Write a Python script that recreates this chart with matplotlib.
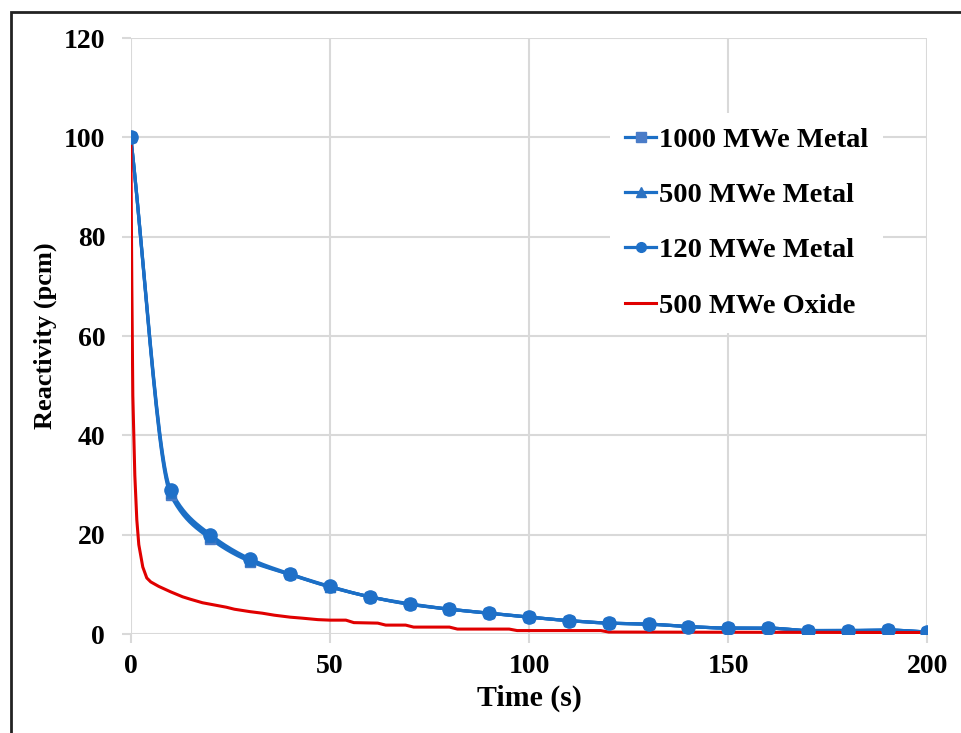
import numpy as np
import matplotlib.pyplot as plt
from matplotlib.patches import Rectangle

# blue series, sampled every 10 s
time_metal = [0, 10, 20, 30, 40, 50, 60, 70, 80, 90, 100,
              110, 120, 130, 140, 150, 160, 170, 180, 190, 200]
metal_1000 = [100, 28.0, 19.2, 14.6, 12.0, 9.5, 7.5, 6.0, 5.0, 4.2, 3.4,
              2.7, 2.2, 2.0, 1.5, 1.2, 1.2, 0.7, 0.7, 0.8, 0.4]
metal_500 = [100, 28.5, 19.5, 14.8, 12.0, 9.5, 7.5, 6.0, 5.0, 4.2, 3.4,
             2.7, 2.2, 2.0, 1.5, 1.2, 1.2, 0.7, 0.7, 0.8, 0.4]
metal_120 = [100, 29.0, 20.0, 15.1, 12.1, 9.6, 7.5, 6.1, 5.0, 4.2, 3.4,
             2.7, 2.2, 2.0, 1.5, 1.2, 1.2, 0.7, 0.7, 0.8, 0.4]

# red series (oxide)
time_oxide = [0, 0.25, 0.5, 1, 1.5, 2, 3, 4, 5, 7, 10, 13, 15, 18, 20, 24, 26,
              30, 33, 36, 40, 43, 47, 50, 54, 56, 62, 64, 69, 71, 80, 82, 95,
              97, 118, 120, 200]
oxide_500 = [100, 70, 48, 32, 23, 18, 13.5, 11.3, 10.5, 9.6, 8.5, 7.5, 7.0,
             6.3, 6.0, 5.4, 5.0, 4.5, 4.2, 3.8, 3.4, 3.2, 2.9, 2.8, 2.8, 2.3,
             2.2, 1.8, 1.8, 1.4, 1.4, 1.0, 1.0, 0.7, 0.7, 0.4, 0.3]

labels = ["1000 MWe Metal", "500 MWe Metal", "120 MWe Metal", "500 MWe Oxide"]


def smooth(x, y, n=25):
    # monotone cubic drawing between the points (excel-style smoothed line)
    x = np.asarray(x, float)
    y = np.asarray(y, float)
    h = np.diff(x)
    d = np.diff(y) / h
    m = np.zeros_like(y)
    m[0], m[-1] = d[0], d[-1]
    for i in range(1, len(x) - 1):
        if d[i - 1] * d[i] > 0:
            w1 = 2 * h[i] + h[i - 1]
            w2 = h[i] + 2 * h[i - 1]
            m[i] = (w1 + w2) / (w1 / d[i - 1] + w2 / d[i])
    xs, ys = [], []
    t = np.linspace(0, 1, n, endpoint=False)
    for i in range(len(x) - 1):
        h00 = 2 * t ** 3 - 3 * t ** 2 + 1
        h10 = t ** 3 - 2 * t ** 2 + t
        h01 = -2 * t ** 3 + 3 * t ** 2
        h11 = t ** 3 - t ** 2
        xs.extend(x[i] + t * h[i])
        ys.extend(h00 * y[i] + h10 * h[i] * m[i] + h01 * y[i + 1] + h11 * h[i] * m[i + 1])
    xs.append(x[-1])
    ys.append(y[-1])
    return np.array(xs), np.array(ys)


plt.rcParams['font.family'] = ['Liberation Serif', 'DejaVu Serif']
plt.rcParams['font.weight'] = 'bold'

fig = plt.figure(figsize=(9.62, 7.33), dpi=100)
ax = fig.add_axes([0.136, 0.135, 0.828, 0.813])

line_blue = '#1c6fc6'
series = [(metal_1000, 's', '#4a7cc8', 6.5), (metal_500, '^', '#2c72c2', 7.5),
          (metal_120, 'o', '#1f70c8', 9.5)]
for k, ((vals, mk, mc, size), lab) in enumerate(zip(series, labels[:3])):
    sx, sy = smooth(time_metal, vals)
    ax.plot(sx, sy, color=line_blue, lw=2.3, zorder=3)
    ax.plot(time_metal, vals, ls='none', marker=mk, ms=size, color=mc, zorder=4 + k)
    ax.plot([], [], color=line_blue, lw=2.3, marker=mk, ms=7, mfc=mc, mec=mc, label=lab)

ax.plot(time_oxide, oxide_500, color='#e00000', lw=2.2, zorder=3, label=labels[3])

ax.set_xlim(0, 200)
ax.set_ylim(0, 120)
ax.set_xticks(range(0, 201, 50))
ax.set_yticks(range(0, 121, 20))
ax.grid(True, color='#d9d9d9', lw=1.5)
ax.set_axisbelow(True)
for s in ax.spines.values():
    s.set_visible(False)
ax.tick_params(length=6.5, width=1.5, color='#d9d9d9', labelsize=20)
ax.tick_params(axis='y', pad=12)
ax.tick_params(axis='x', pad=8)
ax.set_xlabel("Time (s)", fontsize=21.5, fontweight='bold', labelpad=4)
ax.set_ylabel("Reactivity (pcm)", fontsize=19, fontweight='bold', labelpad=5)

leg = ax.legend(loc='upper left', bbox_to_anchor=(0.602, 0.875),
                frameon=True, framealpha=1, edgecolor='none', fancybox=False,
                handlelength=1.12, handletextpad=0.1, labelspacing=1.03,
                borderpad=0.5, borderaxespad=0,
                prop={'weight': 'bold', 'size': 20.5})

fig.patches.append(Rectangle((11 / 962, -0.1), 1.2, 1.1 - 12 / 733,
                             transform=fig.transFigure, fill=False,
                             edgecolor='#222222', lw=2))

fig.savefig("out.png", dpi=100)
